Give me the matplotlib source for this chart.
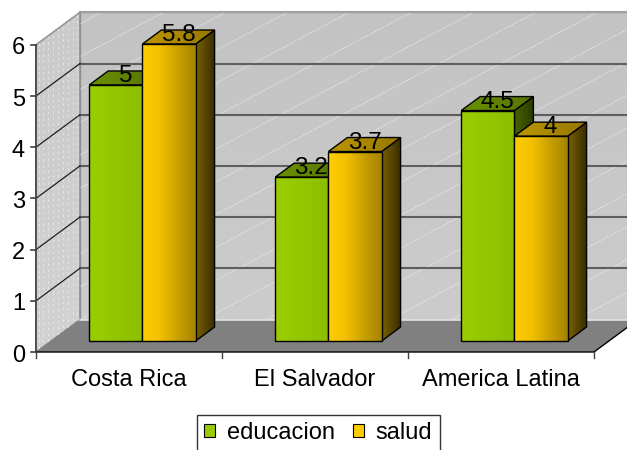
import matplotlib
import numpy as np

matplotlib.use("Agg")
import matplotlib.pyplot as plt
from matplotlib.colors import LinearSegmentedColormap
from matplotlib.patches import Patch, Polygon

plt.rcParams["font.family"] = ["Liberation Sans", "DejaVu Sans"]

# --- data ---------------------------------------------------------------------
categories = ["Costa Rica", "El Salvador", "America Latina"]
series = ["educacion", "salud"]
educacion = [5, 3.2, 4.5]
salud = [5.8, 3.7, 4]
yticks = [0, 1, 2, 3, 4, 5, 6]

# --- layout (oblique 3D look, Excel style) ------------------------------------
W, H = 627, 450
PX_CAT, PX_VAL = 186.0, 51.2      # pixels per category / per value unit
ORG_X, ORG_Y = 36.0, 352.0        # front-plane origin in pixels
DX, DY = 44.0 / PX_CAT, 32.5 / PX_VAL   # full depth offset in data units
D_FRONT, D_BACK = 0.34, 0.77      # bar depth slab
BAR_OFF, BAR_W = 0.206, 0.286
VMAX = 6

FACES = {
    "educacion": dict(front=["#9BCE00", "#8DBE00"], top=["#6B9100", "#557300"],
                      side=["#4A6400", "#2C3B00"]),
    "salud": dict(front=["#FFCC00", "#F2C000", "#C9A000", "#A48200"],
                  top=["#BC9600", "#967700"], side=["#7A6000", "#382C00"]),
}
LEGEND_FACES = [["#99CC00", "#99CC00"], ["#FFCC00", "#A48200"]]


def proj(x, v, d):
    return (x + d * DX, v + d * DY)


def poly(ax, pts, **kw):
    p = Polygon(pts, closed=True, **kw)
    ax.add_patch(p)
    return p


def grad_face(ax, pts, colors, z, vertical=False, edge="black", lw=1.0):
    """Polygon filled with a linear gradient (left->right unless vertical)."""
    clip = poly(ax, pts, facecolor="none", edgecolor="none", zorder=z)
    xs, ys = zip(*pts)
    cmap = LinearSegmentedColormap.from_list("g", colors)
    g = np.linspace(0, 1, 256)
    arr = g[:, None] if vertical else g[None, :]
    im = ax.imshow(arr, cmap=cmap, aspect="auto", origin="upper" if vertical else "lower",
                   extent=(min(xs), max(xs), min(ys), max(ys)), zorder=z,
                   interpolation="bilinear")
    im.set_clip_path(clip)
    poly(ax, pts, facecolor="none", edgecolor=edge, lw=lw, zorder=z + 0.01,
         joinstyle="miter")


fig = plt.figure(figsize=(W / 100, H / 100), dpi=100)
ax = fig.add_axes([0, 0, 1, 1])
ax.axis("off")
n = len(categories)

# walls and floor
back = [proj(0, 0, 1), proj(n, 0, 1), proj(n, VMAX, 1), proj(0, VMAX, 1)]
left = [proj(0, 0, 0), proj(0, 0, 1), proj(0, VMAX, 1), proj(0, VMAX, 0)]
floor = [proj(0, 0, 0), proj(n, 0, 0), proj(n, 0, 1), proj(0, 0, 1)]
grad_face(ax, back, ["#C3C3C3", "#CCCCCC"], 1, vertical=True, edge="#9A9A9A", lw=1)
grad_face(ax, left, ["#CACACA", "#D2D2D2"], 1, vertical=True, edge="#8A8A8A", lw=1)
poly(ax, floor, facecolor="#808080", edgecolor="none", zorder=1.5)
ax.plot(*zip(proj(0, 0, 1), proj(n, 0, 1)), color="#E4E4E4", lw=1.2, zorder=1.6)

# faint wall patterns
back_clip = poly(ax, back, facecolor="none", edgecolor="none", zorder=1.2)
slope = 0.53 * PX_CAT / PX_VAL
for x0 in np.arange(-4.0, n + 1, 62 / PX_CAT):
    xs = np.array([x0, x0 + 4])
    ln, = ax.plot(xs + DX, xs * 0 + DY + slope * (xs - x0), color="white", lw=0.6,
                  alpha=0.7, ls=(0, (1.5, 1.2)), zorder=1.2)
    ln.set_clip_path(back_clip)
left_clip = poly(ax, left, facecolor="none", edgecolor="none", zorder=1.2)
for k, d in enumerate(np.arange(0.06, 1, 0.11)):
    ln, = ax.plot([d * DX, d * DX], [d * DY - 1, d * DY + VMAX + 1], color="white",
                  lw=0.6, alpha=0.55, ls=(k % 2 * 3, (3, 4)), zorder=1.2)
    ln.set_clip_path(left_clip)

# gridlines
for v in yticks[1:]:
    ax.plot(*zip(proj(0, v, 1), proj(n, v, 1)),
            color="#A0A0A0" if v == VMAX else "#5E5E5E", lw=1.5, zorder=1.3)
    ax.plot(*zip(proj(0, v, 0), proj(0, v, 1)), color="#202020" if v < VMAX else "#9A9A9A",
            lw=0.9, zorder=1.3)

# axes lines, ticks and labels
ax.plot([0, 0], [0, VMAX], color="#505050", lw=1.4, zorder=2)
ax.plot(*zip(proj(0, 0, 0), proj(n, 0, 0), proj(n, 0, 1)), color="black", lw=1, zorder=2)
for v in yticks:
    ax.plot([-5 / PX_CAT, 0], [v, v], color="#404040", lw=1.2, zorder=2)
    ax.text(-11 / PX_CAT, v - 9.5 / PX_VAL, str(v), ha="right", va="baseline", fontsize=17)
for i in range(n + 1):
    ax.plot([i, i], [0, -6 / PX_VAL], color="#404040", lw=1, zorder=2)
for i, cat in enumerate(categories):
    ax.text(i + 0.5, -34 / PX_VAL, cat, ha="center", va="baseline", fontsize=17)

# bars
z = 3
for i in range(n):
    for j, (name, vals) in enumerate(zip(series, [educacion, salud])):
        v = vals[i]
        xl = i + BAR_OFF + j * BAR_W
        xr = xl + BAR_W
        f = FACES[name]
        grad_face(ax, [proj(xr, 0, D_FRONT), proj(xr, 0, D_BACK), proj(xr, v, D_BACK),
                       proj(xr, v, D_FRONT)], f["side"], z)
        grad_face(ax, [proj(xl, v, D_FRONT), proj(xr, v, D_FRONT), proj(xr, v, D_BACK),
                       proj(xl, v, D_BACK)], f["top"], z + 0.1)
        grad_face(ax, [proj(xl, 0, D_FRONT), proj(xr, 0, D_FRONT), proj(xr, v, D_FRONT),
                       proj(xl, v, D_FRONT)], f["front"], z + 0.2)
        tx, ty = proj(xl + BAR_W / 2, v, (D_FRONT + D_BACK) / 2)
        ax.text(tx, ty - 4 / PX_VAL, f"{v:g}", ha="center", va="baseline",
                fontsize=17.5, zorder=20)
        z += 1

leg = fig.legend(handles=[Patch(facecolor=c[0], edgecolor="black", lw=0.8) for c in LEGEND_FACES],
                 labels=series, loc="upper left", bbox_to_anchor=(197 / W, 1 - 415 / H),
                 ncol=2, frameon=True, fancybox=False, edgecolor="black", fontsize=17,
                 handlelength=0.45, handleheight=0.45, handletextpad=0.5,
                 columnspacing=0.8, borderpad=0.3, borderaxespad=0)
leg.get_frame().set_linewidth(1.0)

ax.set_xlim(-ORG_X / PX_CAT, (W - ORG_X) / PX_CAT)
ax.set_ylim(-(H - ORG_Y) / PX_VAL, ORG_Y / PX_VAL)

# gradient on the legend swatches
fig.canvas.draw()
for patch, cols in zip(leg.get_patches(), LEGEND_FACES):
    bb = patch.get_window_extent().transformed(ax.transData.inverted())
    cmap = LinearSegmentedColormap.from_list("lg", cols)
    ax.imshow(np.linspace(0, 1, 64)[None, :], cmap=cmap, aspect="auto",
              extent=(bb.x0, bb.x1, bb.y0, bb.y1), zorder=30, clip_on=False)
    ax.add_patch(Polygon([(bb.x0, bb.y0), (bb.x1, bb.y0), (bb.x1, bb.y1), (bb.x0, bb.y1)],
                         facecolor="none", edgecolor="black", lw=0.8, zorder=31, clip_on=False))
ax.set_xlim(-ORG_X / PX_CAT, (W - ORG_X) / PX_CAT)
ax.set_ylim(-(H - ORG_Y) / PX_VAL, ORG_Y / PX_VAL)
fig.savefig("out.png", dpi=100, facecolor="white")
